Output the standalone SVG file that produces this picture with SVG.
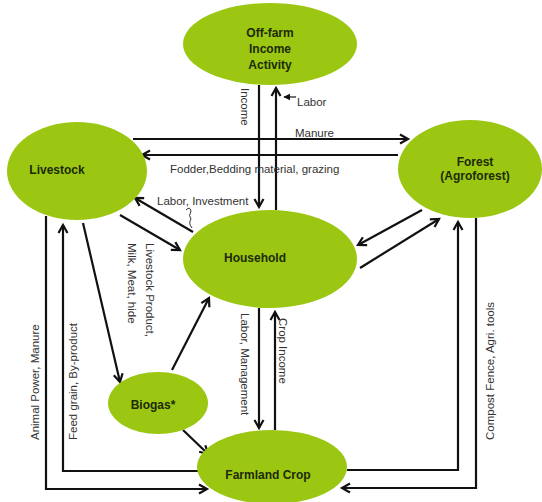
<svg xmlns="http://www.w3.org/2000/svg" width="542" height="502" viewBox="0 0 542 502">
<defs>
<marker id="ah" viewBox="0 0 10 10" refX="9" refY="5" markerWidth="10" markerHeight="10" markerUnits="userSpaceOnUse" orient="auto" overflow="visible">
<path d="M1,0.5 L9,5 L1,9.5" fill="none" stroke="#111" stroke-width="2.2"/>
</marker>
<marker id="ahs" viewBox="0 0 10 10" refX="9" refY="5" markerWidth="7" markerHeight="7" markerUnits="userSpaceOnUse" orient="auto">
<path d="M0,0 L10,5 L0,10 Z" fill="#111"/>
</marker>
</defs>
<style>
.node ellipse{fill:#9bc713;}
.nt{font-family:"Liberation Sans",Arial,sans-serif;font-size:12px;font-weight:bold;fill:#1c2a05;text-anchor:middle;}
.c{fill:none;stroke:#111;stroke-width:2.2;}
.a{marker-end:url(#ah);}
.lb{font-family:"Liberation Sans",Arial,sans-serif;font-size:11.5px;fill:#333;}
</style>
<rect width="542" height="502" fill="#fff"/>
<g id="connectors">
<path class="c a" d="M259,85 V207"/>
<path class="c a" d="M276,210 V88"/>
<path d="M296,97 H284" fill="none" stroke="#111" stroke-width="1.2" marker-end="url(#ahs)"/>
<path class="c a" d="M133,139 H408"/>
<path class="c a" d="M398,155 H142"/>
<path class="c a" d="M193,232 L135,198"/>
<path class="c a" d="M120,215 L180,250"/>
<path class="c a" d="M422,210 L358,245"/>
<path class="c a" d="M360,268 L439,219"/>
<path class="c a" d="M83,223 L120,382"/>
<path class="c a" d="M172,370 L209,298"/>
<path class="c a" d="M183,430 L208,454"/>
<path class="c a" d="M259,308 V428"/>
<path class="c a" d="M275,430 V312"/>
<path class="c a" d="M46,216 V489 H207"/>
<path class="c a" d="M198,471 H63 V225"/>
<path class="c a" d="M347,470 H458 V222"/>
<path class="c a" d="M476,218 V488 H342"/>
<path d="M186,210 q4,-4 5,1 q-3,5 0,8 q-3,4 1,9" fill="none" stroke="#333" stroke-width="1"/>
</g>
<g id="labels">
<text class="lb" transform="translate(241,88) rotate(90)">Income</text>
<text class="lb" x="297" y="106">Labor</text>
<text class="lb" x="295" y="137" font-size="10.5">Manure</text>
<text class="lb" x="170" y="173">Fodder,Bedding material, grazing</text>
<text class="lb" x="157" y="205">Labor, Investment</text>
<text class="lb" transform="translate(146,243) rotate(90)">Livestock Product,</text>
<text class="lb" transform="translate(128,243) rotate(90)">Milk, Meat, hide</text>
<text class="lb" transform="translate(241,313) rotate(90)">Labor, Management</text>
<text class="lb" transform="translate(279,318) rotate(90)">Crop Income</text>
<text class="lb" transform="translate(39,440) rotate(-90)">Animal Power, Manure</text>
<text class="lb" transform="translate(77,440) rotate(-90)">Feed grain, By-product</text>
<text class="lb" transform="translate(494,440) rotate(-90)">Compost Fence, Agri. tools</text>
</g>
<g id="offfarm" class="node"><ellipse cx="270" cy="44" rx="87" ry="41"/><text class="nt" x="270" y="37">Off-farm</text><text class="nt" x="270" y="53">Income</text><text class="nt" x="270" y="69">Activity</text></g>
<g id="livestock" class="node"><ellipse cx="77" cy="171" rx="70" ry="49"/><text class="nt" x="57" y="174">Livestock</text></g>
<g id="forest" class="node"><ellipse cx="470" cy="169" rx="72" ry="49"/><text class="nt" x="475" y="166">Forest</text><text class="nt" x="475" y="180">(Agroforest)</text></g>
<g id="household" class="node"><ellipse cx="270" cy="259" rx="87" ry="49"/><text class="nt" x="255" y="262">Household</text></g>
<g id="biogas" class="node"><ellipse cx="158" cy="403" rx="50" ry="31"/><text class="nt" x="153" y="409">Biogas*</text></g>
<g id="farmland" class="node"><ellipse cx="272" cy="467" rx="75" ry="37"/><text class="nt" x="268" y="479">Farmland Crop</text></g>
</svg>
